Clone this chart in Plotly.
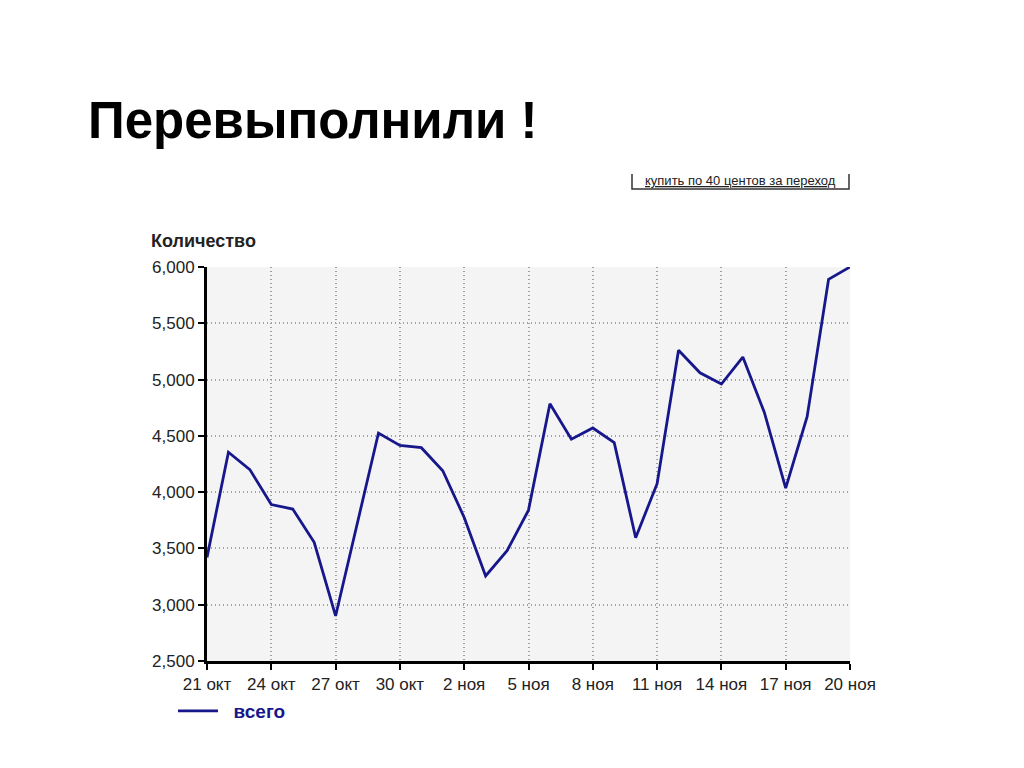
import plotly.graph_objects as go

days = ["21 окт", "22 окт", "23 окт", "24 окт", "25 окт", "26 окт", "27 окт", "28 окт",
        "29 окт", "30 окт", "31 окт", "1 ноя", "2 ноя", "3 ноя", "4 ноя", "5 ноя",
        "6 ноя", "7 ноя", "8 ноя", "9 ноя", "10 ноя", "11 ноя", "12 ноя", "13 ноя",
        "14 ноя", "15 ноя", "16 ноя", "17 ноя", "18 ноя", "19 ноя", "20 ноя"]
total = [3420, 4355, 4200, 3890, 3850, 3555, 2900, 3720,
         4525, 4415, 4395, 4190, 3775, 3255, 3480, 3840,
         4785, 4470, 4570, 4440, 3595, 4075, 5260, 5060,
         4960, 5200, 4710, 4035, 4670, 5890, 6000]
tick_days = days[::3]
y_ticks = [2500, 3000, 3500, 4000, 4500, 5000, 5500, 6000]

title_text = "Перевыполнили !"
button_text = "купить по 40 центов за переход"
y_title = "Количество"
series_name = "всего"

FONT = "Liberation Sans, Arial, sans-serif"
NAVY = "#17178c"

# page has an 8px body margin; target plot area 207..850 x 267..661 in the screenshot
OFF = 8
L, R, T, B = 207 - OFF, 850 - OFF, 267 - OFF, 661 - OFF
PW, PH = R - L, B - T


def px(x):
    return (x - OFF - L) / PW


def py(y):
    return (B - (y - OFF)) / PH


fig = go.Figure()
fig.add_trace(go.Scatter(x=days, y=total, mode="lines",
                         name="\u00a0\u00a0<b>" + series_name + "</b>",
                         line=dict(color=NAVY, width=2.8)))

fig.update_layout(
    width=1024, height=768,
    margin=dict(l=L, r=1024 - R, t=T, b=768 - B, autoexpand=False),
    paper_bgcolor="white", plot_bgcolor="#f4f4f4",
    font=dict(family=FONT, size=17, color="#222"),
    title=dict(text="<b>" + title_text + "</b>", font=dict(size=51, color="black", family=FONT),
               x=(88 - OFF) / 1024, xanchor="left", xref="container",
               y=1 - (120 - OFF) / 768, yanchor="middle", yref="container"),
    showlegend=True,
    legend=dict(x=px(173), y=py(692), xanchor="left", yanchor="top", orientation="h",
                font=dict(size=19, color=NAVY, family=FONT), bgcolor="rgba(0,0,0,0)",
                itemwidth=40),
)

fig.update_xaxes(type="category", range=[0, 30], tickmode="array", tickvals=tick_days,
                 showgrid=True, gridcolor="#a0a0a0", griddash="1px,3px", gridwidth=1.5,
                 showline=True, linecolor="black", linewidth=3,
                 ticks="outside", ticklen=6, tickcolor="black", tickwidth=2,
                 tickfont=dict(size=17, color="#222"), zeroline=False)
fig.update_yaxes(range=[2500, 6000], tickmode="array", tickvals=y_ticks, tickformat=",",
                 showgrid=True, gridcolor="#a0a0a0", griddash="1px,3px", gridwidth=1.5,
                 showline=True, linecolor="black", linewidth=3,
                 ticks="outside", ticklen=6, tickcolor="black", tickwidth=2,
                 tickfont=dict(size=17, color="#222"), zeroline=False)

# y-axis title
fig.add_annotation(text="<b>" + y_title + "</b>", xref="paper", yref="paper",
                   x=px(149), y=py(241), xanchor="left", yanchor="middle",
                   showarrow=False, font=dict(size=18, color="#222", family=FONT))

# button-like link
fig.add_annotation(text="<u>" + button_text + "</u>", xref="paper", yref="paper",
                   x=px(740), y=py(180), xanchor="center", yanchor="middle",
                   showarrow=False, font=dict(size=13, color="#222", family=FONT))
x0, x1 = px(632), px(849)
yt, yb = py(174), py(189)
fig.add_shape(type="path", xref="paper", yref="paper",
              path=f"M {x0} {yt} L {x0} {yb} L {x1} {yb} L {x1} {yt}",
              line=dict(color="#333", width=1.5))

fig.write_html("out.html")
